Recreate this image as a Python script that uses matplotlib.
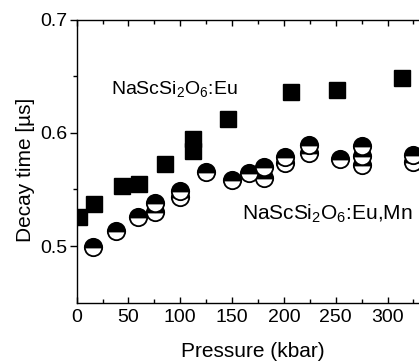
import matplotlib
matplotlib.use("Agg")
import matplotlib.pyplot as plt
from matplotlib.ticker import FixedLocator, MultipleLocator

plt.rcParams["font.family"] = ["Liberation Sans", "DejaVu Sans"]

# NaScSi2O6:Eu (filled squares)
eu_p = [2.5, 16.7, 43.7, 60.1, 85.2, 112.3, 112.3, 146, 206.9, 251.3, 314]
eu_tau = [0.5256, 0.5371, 0.553, 0.5547, 0.5724, 0.5945, 0.5838, 0.6121, 0.6359, 0.6377, 0.648]

# NaScSi2O6:Eu,Mn (half-filled circles), repeated runs
mn_p1 = [15.7, 37.9, 58.9, 75.9, 100, 124.5, 150.2, 166.6, 180.8, 201.5, 224.2, 253.7, 275.1, 325]
mn_tau1 = [0.4994, 0.5135, 0.5259, 0.5382, 0.5485, 0.565, 0.5583, 0.5642, 0.570, 0.5786,
           0.5891, 0.5772, 0.5883, 0.5803]
mn_p2 = [75.9, 100, 180.8, 201.5, 224.2, 275.1, 325]
mn_tau2 = [0.5303, 0.543, 0.5605, 0.5733, 0.5821, 0.5794, 0.5741]
mn_p3 = [275.1]
mn_tau3 = [0.5719]

fig = plt.figure(figsize=(4.19, 3.62), dpi=100)
ax = fig.add_axes([0.183, 0.164, 0.817, 0.782])

circ = dict(ls="none", marker="o", ms=12.5, mec="black", mew=1.3,
            mfc="black", mfcalt="white", fillstyle="top")
ax.plot(mn_p3, mn_tau3, **circ)
ax.plot(mn_p2, mn_tau2, **circ)
ax.plot(mn_p1, mn_tau1, **circ)
ax.plot(eu_p, eu_tau, ls="none", marker="s", ms=11.5, color="black")

ax.set_xlim(0, 330.4)
ax.set_ylim(0.45, 0.7)

ax.xaxis.set_major_locator(MultipleLocator(50))
ax.xaxis.set_minor_locator(MultipleLocator(25))
ax.yaxis.set_major_locator(FixedLocator([0.5, 0.6, 0.7]))
ax.yaxis.set_minor_locator(FixedLocator([0.55, 0.65]))
ax.yaxis.set_major_formatter(plt.FuncFormatter(lambda v, p: f"{v:.1f}"))

ax.spines["right"].set_visible(False)
for s in ax.spines.values():
    s.set_linewidth(1.0)
ax.tick_params(axis="x", which="both", direction="in", top=True, labelsize=14,
               pad=4.5, width=1.0)
ax.tick_params(axis="x", which="major", length=4.5)
ax.tick_params(axis="x", which="minor", length=3)
ax.tick_params(axis="y", which="both", direction="out", right=False, labelsize=14,
               pad=1.5, width=1.0)
ax.tick_params(axis="y", which="major", length=5)
ax.tick_params(axis="y", which="minor", length=3)

ax.set_xlabel("Pressure (kbar)", fontsize=15)
ax.set_ylabel("Decay time [\u00b5s]", fontsize=15)
ax.xaxis.set_label_coords(0.514, -0.138)
ax.yaxis.set_label_coords(-0.121, 0.47)

ax.text(0.099, 0.735, r"NaScSi$_\mathregular{2}$O$_\mathregular{6}$:Eu", fontsize=14,
        transform=ax.transAxes)
ax.text(0.482, 0.293, r"NaScSi$_\mathregular{2}$O$_\mathregular{6}$:Eu,Mn", fontsize=15,
        transform=ax.transAxes)

fig.savefig("out.png", dpi=100)
